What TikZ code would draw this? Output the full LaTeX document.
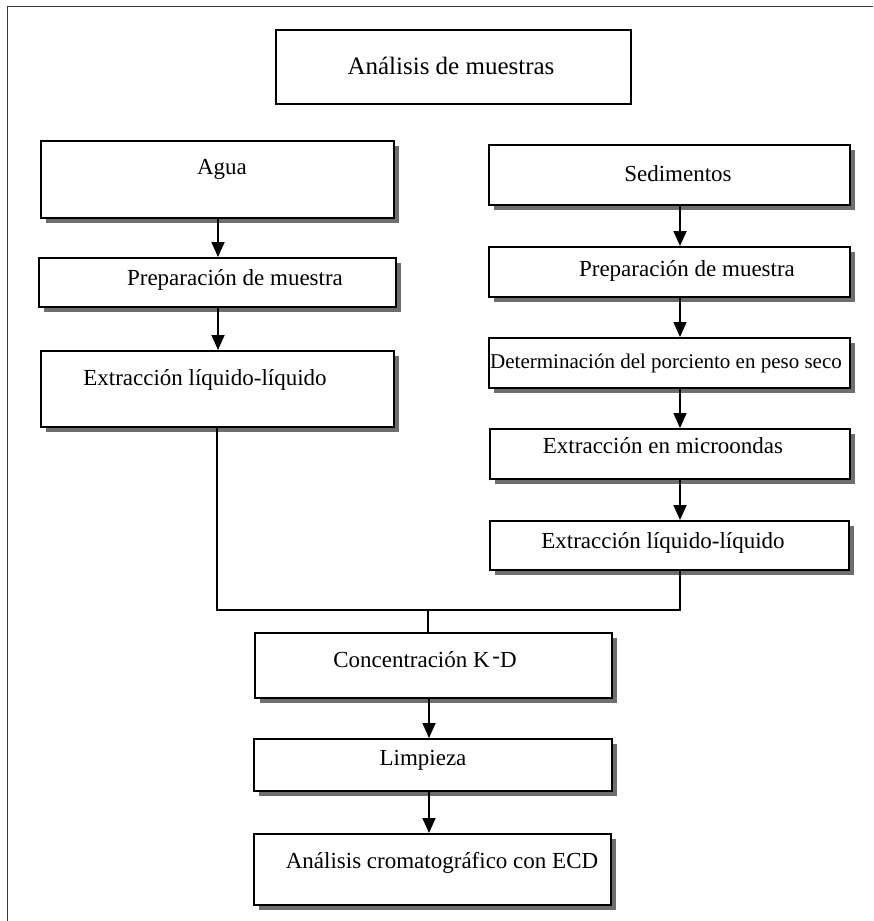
\documentclass[tikz,border=0pt]{standalone}
\usepackage{fontspec}
\setmainfont{Liberation Serif}
\usetikzlibrary{shadows,arrows.meta}
\definecolor{shadowgray}{HTML}{6E6E6E}
\definecolor{framegray}{HTML}{3A3A3A}
\tikzset{
  box/.style={draw=black, line width=1.7pt, fill=white, rectangle, inner sep=0pt,
    anchor=north west},
  sbox/.style={box, drop shadow={shadow xshift=5pt, shadow yshift=-5pt, opacity=1, fill=shadowgray}},
  lbl/.style={anchor=base, inner sep=0pt, font=\fontsize{23}{27}\selectfont},
  slbl/.style={lbl, font=\fontsize{21}{25}\selectfont},
  tlbl/.style={lbl, font=\fontsize{25}{29}\selectfont},
  arr/.style={line width=1.8pt, -{Triangle[length=15pt,width=13pt]}},
  link/.style={line width=1.4pt},
}
% place a box from its top-left corner (#2,#3) to bottom-right corner (#4,#5)
\newcommand{\flowbox}[6][sbox]{%
  \node[#1, minimum width={(#4-#2)*1pt}, minimum height={(#5-#3)*1pt}] (#6) at (#2,#3) {};}
\begin{document}
\begin{tikzpicture}[x=1pt, y=-1pt]
\useasboundingbox (0,0) rectangle (873,921);

% outer frame (top and left edges)
\draw[framegray, line width=1.5pt] (7.5,921) -- (7.5,6.5) -- (873,6.5);

% boxes
\flowbox[box]{275}{29}{630}{103}{title}
\flowbox{40}{140}{393}{217}{agua}
\flowbox{38}{257}{395}{306}{prepL}
\flowbox{40}{350}{393}{426}{extL}
\flowbox{488}{144}{849}{204}{sed}
\flowbox{488}{246}{849}{296}{prepR}
\flowbox{488}{337}{849}{387}{det}
\flowbox{489}{428}{849}{478}{micro}
\flowbox{489}{520}{848}{569}{extR}
\flowbox{254}{632}{611}{697}{kd}
\flowbox{253}{738}{611}{790}{limp}
\flowbox{253}{833}{610}{904}{crom}

% labels
\node[tlbl] (tTitle) at (451,74) {Análisis de muestras};
\node[lbl] (tAgua)  at (222,174) {Agua};
\node[lbl] (tPrepL) at (235,285) {Preparación de muestra};
\node[lbl] (tExtL)  at (205,385) {Extracción líquido-líquido};
\node[lbl] (tSed)   at (678,181) {Sedimentos};
\node[lbl] (tPrepR) at (687,276) {Preparación de muestra};
\node[slbl] (tDet)  at (666,368) {Determinación del porciento en peso seco};
\node[lbl] (tMicro) at (663,453) {Extracción en microondas};
\node[lbl] (tExtR)  at (663,548) {Extracción líquido-líquido};
\node[lbl] (tKd)    at (425,667) {Concentración K\kern0.12em\raisebox{0.15em}{-}D};
\node[lbl] (tLimp)  at (423,765) {Limpieza};
\node[lbl] (tCrom)  at (442,868) {Análisis cromatográfico con ECD};

% column positions of the connectors
\coordinate (cL) at (218,0);
\coordinate (cR) at (680,0);
\coordinate (cM) at (429,0);
\coordinate (jL) at (217,610);
\coordinate (jR) at (680,610);
\coordinate (jM) at (428,610);

% arrows
\draw[arr] (agua.south -| cL) -- (prepL.north -| cL);
\draw[arr] (prepL.south -| cL) -- (extL.north -| cL);
\draw[arr] (sed.south -| cR) -- (prepR.north -| cR);
\draw[arr] (prepR.south -| cR) -- (det.north -| cR);
\draw[arr] (det.south -| cR) -- (micro.north -| cR);
\draw[arr] (micro.south -| cR) -- (extR.north -| cR);
\draw[arr] (kd.south -| cM) -- (limp.north -| cM);
\draw[arr] (limp.south -| cM) -- (crom.north -| cM);

% merging lines
\draw[link] (extL.south -| jL) -- (jL) -- (jR) -- (extR.south -| jR);
\draw[link] (jM) -- (kd.north -| jM);
\end{tikzpicture}
\end{document}
